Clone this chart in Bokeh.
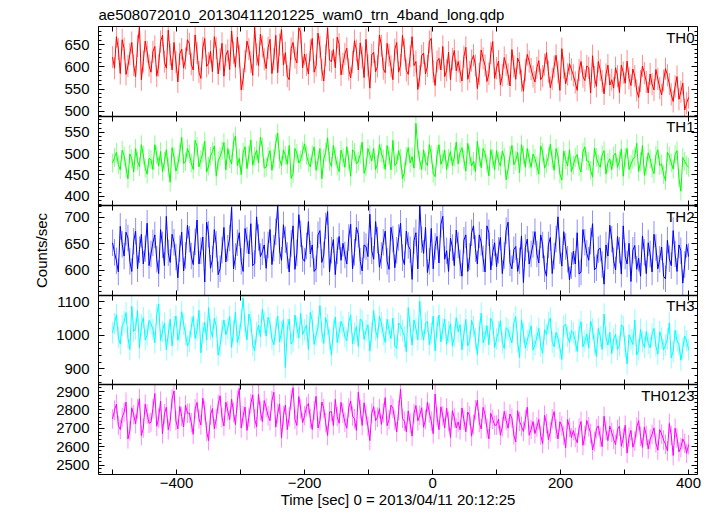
import numpy as np
from bokeh.plotting import figure
from bokeh.models import (ColumnDataSource, Range1d, SingleIntervalTicker, FixedTicker,
                          LinearAxis, Label, CustomLabelingPolicy)
from bokeh.embed import file_html
from bokeh.resources import INLINE

TITLE = "ae508072010_20130411201225_wam0_trn_4band_long.qdp"
X_LABEL = "Time [sec] 0 = 2013/04/11 20:12:25"
Y_LABEL = "Counts/sec"

band_names = ["TH0", "TH1", "TH2", "TH3", "TH0123"]
band_colors = ["#ff0000", "#00ff00", "#0000ff", "#00ffff", "#ff00ff"]

# first bin time and bin width (sec)
t_start = -500
t_step = 3

th0 = [622, 597, 668, 640, 585, 661, 641, 583, 602, 629, 655, 604, 578, 647, 690, 571, 612, 658, 634, 603,
       588, 634, 646, 579, 603, 657, 671, 612, 597, 683, 628, 593, 655, 611, 566, 629, 640, 597, 619, 661,
       652, 606, 593, 672, 631, 588, 574, 643, 664, 601, 608, 635, 589, 668, 642, 584, 617, 653, 579, 626,
       637, 594, 681, 632, 599, 667, 624, 548, 572, 613, 658, 640, 611, 581, 689, 628, 603, 674, 646, 617,
       596, 643, 662, 585, 618, 671, 587, 650, 684, 604, 632, 579, 571, 641, 655, 621, 609, 688, 677, 598,
       629, 605, 584, 637, 664, 588, 603, 676, 645, 593, 568, 626, 688, 615, 612, 639, 598, 667, 651, 582,
       607, 629, 642, 594, 575, 611, 659, 637, 593, 654, 621, 576, 662, 603, 552, 627, 633, 589, 601, 672,
       648, 596, 587, 653, 626, 601, 571, 639, 655, 588, 604, 671, 639, 592, 583, 624, 668, 603, 612, 549,
       579, 625, 631, 584, 602, 657, 664, 589, 558, 612, 619, 593, 646, 578, 592, 633, 571, 618, 637, 591,
       612, 589, 568, 623, 644, 572, 589, 614, 626, 603, 551, 584, 638, 619, 603, 567, 584, 631, 657, 574,
       597, 613, 559, 581, 621, 604, 583, 557, 639, 601, 572, 620, 608, 569, 545, 593, 628, 612, 595, 578,
       566, 598, 614, 571, 579, 605, 632, 589, 553, 573, 601, 626, 588, 547, 641, 598, 562, 583, 607, 594,
       581, 565, 547, 593, 612, 578, 569, 602, 598, 541, 625, 577, 556, 612, 593, 568, 539, 583, 604, 559,
       571, 552, 598, 579, 542, 604, 587, 563, 613, 574, 558, 595, 579, 547, 531, 568, 602, 586, 566, 541,
       584, 561, 548, 594, 573, 552, 537, 569, 596, 581, 561, 538, 522, 556, 578, 527, 544, 563, 503, 518,
       531]

th1 = [478, 491, 503, 474, 462, 508, 495, 467, 441, 499, 488, 457, 512, 483, 469, 521, 497, 466, 452, 489,
       486, 463, 521, 497, 471, 505, 458, 482, 509, 468, 433, 514, 492, 459, 474, 503, 538, 477, 481, 512,
       499, 478, 463, 531, 517, 469, 486, 502, 529, 457, 471, 494, 505, 518, 447, 483, 493, 507, 526, 462,
       512, 488, 476, 527, 541, 472, 489, 451, 503, 516, 465, 497, 532, 473, 494, 508, 478, 539, 515, 466,
       468, 493, 507, 461, 489, 524, 548, 487, 472, 509, 496, 475, 519, 442, 453, 512, 501, 478, 486, 505,
       523, 497, 479, 469, 498, 516, 461, 484, 512, 441, 488, 503, 537, 482, 470, 519, 494, 471, 458, 508,
       491, 468, 516, 485, 447, 509, 503, 476, 482, 498, 527, 454, 469, 512, 498, 483, 512, 463, 476, 521,
       502, 487, 463, 519, 495, 462, 531, 472, 478, 507, 489, 441, 456, 494, 514, 478, 493, 466, 571, 512,
       484, 463, 509, 481, 472, 521, 498, 454, 446, 497, 521, 475, 487, 508, 463, 489, 505, 472, 492, 527,
       476, 503, 514, 486, 459, 524, 496, 471, 482, 458, 529, 493, 467, 512, 501, 476, 448, 509, 488, 462,
       507, 482, 471, 506, 492, 439, 463, 495, 519, 474, 484, 503, 455, 521, 497, 468, 512, 487, 468, 499,
       489, 471, 452, 518, 503, 466, 477, 493, 522, 487, 461, 512, 494, 452, 438, 506, 486, 471, 509, 458,
       473, 491, 498, 469, 457, 504, 516, 483, 482, 461, 445, 513, 491, 476, 468, 497, 507, 452, 479, 488,
       462, 495, 501, 468, 483, 511, 447, 492, 512, 463, 475, 487, 493, 524, 458, 481, 519, 449, 471, 502,
       488, 466, 453, 496, 509, 472, 476, 451, 437, 503, 495, 478, 464, 498, 507, 442, 412, 491, 482, 473,
       468]

th2 = [652, 634, 618, 597, 683, 649, 627, 672, 661, 617, 598, 655, 674, 603, 639, 668, 612, 641, 689, 609,
       631, 652, 667, 621, 594, 677, 648, 609, 702, 633, 615, 668, 653, 625, 586, 641, 672, 599, 628, 685,
       659, 627, 611, 654, 695, 612, 637, 663, 578, 691, 668, 604, 621, 677, 649, 592, 603, 638, 681, 616,
       642, 661, 719, 603, 626, 652, 671, 617, 598, 679, 657, 631, 688, 609, 613, 701, 662, 626, 635, 648,
       604, 648, 677, 611, 642, 673, 721, 637, 619, 686, 658, 628, 597, 651, 684, 602, 633, 705, 669, 622,
       617, 646, 692, 631, 648, 598, 603, 667, 675, 615, 629, 684, 711, 597, 638, 658, 592, 637, 664, 619,
       651, 629, 612, 662, 687, 603, 634, 681, 668, 617, 599, 648, 645, 626, 706, 637, 621, 692, 657, 606,
       628, 653, 674, 617, 602, 681, 659, 605, 638, 662, 689, 624, 611, 674, 647, 639, 583, 656, 671, 603,
       722, 658, 632, 681, 596, 617, 679, 603, 645, 664, 614, 687, 702, 621, 637, 598, 661, 643, 609, 676,
       648, 614, 589, 657, 667, 598, 626, 671, 684, 641, 612, 667, 653, 622, 597, 684, 671, 601, 634, 652,
       607, 638, 662, 594, 628, 675, 691, 614, 603, 639, 645, 598, 618, 665, 577, 643, 659, 612, 631, 649,
       673, 631, 614, 667, 648, 603, 589, 648, 662, 594, 627, 659, 701, 637, 608, 673, 645, 621, 582, 609,
       636, 612, 671, 593, 597, 677, 653, 632, 619, 655, 688, 601, 605, 639, 642, 611, 574, 648, 627, 685,
       659, 618, 601, 664, 638, 593, 684, 627, 612, 651, 579, 638, 647, 602, 623, 589, 665, 634, 594, 652,
       631, 597, 668, 643, 603, 621, 644, 589, 584, 657, 622, 609, 675, 631, 598, 648, 637, 576, 611, 649,
       626]

th3 = [1008, 1036, 1062, 995, 974, 1029, 1041, 1068, 993, 958, 1087, 1012, 1019, 1074, 962, 1031, 1053, 987, 1001, 1045,
       1035, 1019, 978, 1063, 1094, 985, 1012, 1037, 957, 1004, 1048, 969, 1026, 1058, 986, 1012, 1071, 1033, 1004, 968,
       982, 1024, 1057, 991, 1016, 1075, 948, 1007, 1039, 986, 1083, 1018, 995, 1052, 1027, 941, 969, 1013, 1046, 1002,
       1021, 1057, 964, 1013, 1069, 979, 1003, 1046, 1112, 1028, 987, 1064, 1042, 971, 955, 1009, 1031, 996, 1078, 1039,
       998, 1054, 1036, 989, 972, 1019, 1058, 981, 1011, 1047, 904, 1018, 1049, 974, 983, 1061, 1024, 992, 1066, 1003,
       1017, 1031, 958, 1069, 1044, 973, 1001, 1025, 1089, 1011, 976, 1053, 1032, 988, 941, 1016, 1055, 979, 1008, 1042,
       1027, 996, 984, 1038, 1061, 975, 1006, 1027, 967, 1049, 1043, 988, 1014, 1032, 953, 1008, 1074, 1016, 992, 1057,
       1038, 1003, 979, 1048, 1016, 991, 1052, 969, 961, 1037, 1029, 1015, 997, 951, 1083, 1024, 971, 1046, 1021, 987,
       1103, 1017, 986, 1036, 1042, 972, 1007, 1058, 954, 1024, 1061, 981, 1019, 1049, 973, 1011, 1035, 968, 996, 1053,
       1011, 1032, 957, 1004, 1048, 969, 982, 1045, 1026, 990, 943, 1013, 1067, 978, 999, 1029, 972, 1051, 1038, 964,
       989, 1012, 1044, 978, 961, 1023, 1017, 995, 978, 1036, 1056, 981, 934, 1047, 1008, 962, 985, 1007, 1029, 956,
       972, 995, 1021, 968, 947, 1017, 1003, 1038, 1052, 979, 966, 1009, 991, 962, 928, 1028, 1034, 997, 979, 1014,
       1008, 983, 952, 1017, 1041, 966, 983, 1004, 962, 1043, 1019, 974, 937, 1021, 997, 958, 1064, 993, 971, 1009,
       946, 989, 1003, 958, 969, 1031, 1027, 966, 915, 1002, 988, 973, 1046, 941, 957, 1018, 981, 964, 1012, 976,
       963, 1004, 1021, 968, 944, 1011, 992, 957, 971, 990, 1037, 933, 952, 1015, 984, 972, 926, 961, 998, 984,
       957]

th0123 = [2751, 2798, 2832, 2716, 2694, 2759, 2788, 2842, 2643, 2687, 2812, 2774, 2725, 2806, 2861, 2661, 2702, 2831, 2779, 2728,
          2734, 2807, 2889, 2712, 2756, 2848, 2671, 2779, 2815, 2693, 2738, 2861, 2903, 2742, 2697, 2819, 2764, 2708, 2826, 2782,
          2783, 2731, 2668, 2806, 2841, 2752, 2719, 2864, 2797, 2684, 2634, 2773, 2808, 2698, 2752, 2831, 2877, 2759, 2713, 2842,
          2796, 2748, 2858, 2787, 2721, 2853, 2917, 2702, 2768, 2816, 2689, 2761, 2834, 2882, 2752, 2709, 2884, 2795, 2737, 2851,
          2812, 2768, 2742, 2851, 2896, 2707, 2781, 2833, 2649, 2768, 2827, 2694, 2763, 2856, 2921, 2749, 2716, 2873, 2805, 2731,
          2769, 2817, 2835, 2753, 2694, 2796, 2874, 2702, 2741, 2843, 2808, 2731, 2662, 2789, 2791, 2716, 2857, 2764, 2728, 2841,
          2783, 2734, 2701, 2812, 2849, 2767, 2752, 2689, 2896, 2803, 2716, 2839, 2773, 2711, 2634, 2782, 2818, 2742, 2761, 2807,
          2722, 2784, 2867, 2715, 2748, 2826, 2809, 2744, 2681, 2798, 2913, 2754, 2739, 2682, 2795, 2729, 2658, 2781, 2824, 2741,
          2771, 2812, 2706, 2749, 2842, 2784, 2739, 2671, 2886, 2762, 2693, 2817, 2768, 2703, 2810, 2738, 2651, 2796, 2757, 2702,
          2735, 2693, 2811, 2746, 2682, 2789, 2768, 2658, 2721, 2801, 2852, 2732, 2697, 2814, 2776, 2701, 2643, 2782, 2749, 2717,
          2718, 2751, 2663, 2709, 2792, 2743, 2701, 2778, 2756, 2664, 2627, 2796, 2738, 2711, 2684, 2749, 2815, 2663, 2695, 2737,
          2672, 2708, 2749, 2663, 2618, 2771, 2726, 2639, 2681, 2752, 2791, 2697, 2643, 2736, 2713, 2662, 2595, 2748, 2704, 2651,
          2688, 2651, 2622, 2702, 2737, 2608, 2661, 2743, 2709, 2672, 2583, 2628, 2697, 2714, 2652, 2601, 2766, 2689, 2634, 2712,
          2679, 2641, 2613, 2694, 2712, 2603, 2648, 2717, 2566, 2652, 2689, 2598, 2631, 2706, 2742, 2657, 2597, 2708, 2662, 2589,
          2641, 2668, 2703, 2621, 2582, 2694, 2669, 2637, 2614, 2578, 2727, 2662, 2553, 2701, 2648, 2573, 2596, 2643, 2619, 2565,
          2612]

band_values = [th0, th1, th2, th3, th0123]
band_errors = [25, 22, 25, 32, 53]          # 1-sigma error bar half-length
y_limits = [(489, 691), (378, 588), (553, 722), (852, 1120), (2450, 2936)]
y_major = [50, 50, 50, 100, 100]
x_limits = (-522, 414)
x_tick_labels = {-400: "\u2212400", -200: "\u2212200", 0: "0", 200: "200", 400: "400",
                 -500: "", -300: "", -100: "", 100: "", 300: ""}

FONT = "Liberation Sans"
FS = "15px"
NB = len(band_names)

def no_labels():
    return CustomLabelingPolicy(code="return []")

# each band gets its own y scale; its range is widened so that [lo, hi]
# fills exactly its own fifth of the frame
extra = {}
for k in range(NB):
    lo, hi = y_limits[k]
    span = hi - lo
    extra[band_names[k]] = Range1d(lo - (NB - 1 - k) * span, hi + k * span)

p = figure(frame_width=599, frame_height=448,
           x_range=Range1d(*x_limits), y_range=Range1d(0, NB),
           x_axis_location=None, y_axis_location=None,
           output_backend="svg", toolbar_location=None,
           min_border_left=98, min_border_right=10, min_border_top=0, min_border_bottom=0,
           background_fill_color="white", border_fill_color="white")
p.extra_y_ranges = extra
p.grid.visible = False
p.outline_line_color = "black"
p.outline_line_width = 1
p.outline_line_alpha = 1

p.title.text = TITLE
p.title.text_font = FONT
p.title.text_font_size = FS
p.title.text_font_style = "normal"
p.title.text_color = "black"
p.title.align = "left"
p.title.standoff = 7

# tick positions of every band, expressed on the shared frame axis (0..NB)
tick_pos, minor_pos, tick_text = [], [], {}

for k in range(NB):
    name = band_names[k]
    lo, hi = y_limits[k]
    vals = np.array(band_values[k], dtype=float)
    t = t_start + t_step * np.arange(len(vals))
    err = band_errors[k]
    src = ColumnDataSource(dict(t=t, y=vals,
                                lo=np.clip(vals - err, lo, hi),
                                hi=np.clip(vals + err, lo, hi)))
    color = band_colors[k]
    p.segment(x0="t", y0="lo", x1="t", y1="hi", source=src, line_color=color,
              line_alpha=0.45, line_width=1, y_range_name=name)
    p.line(x="t", y="y", source=src, line_color=color, line_width=1, y_range_name=name)

    r = extra[name]
    to_frame = lambda v: float(NB * (v - r.start) / (r.end - r.start))
    step = y_major[k]
    mstep = step / 5
    for v in np.arange(np.ceil(lo / step) * step, hi + 0.1, step):
        pos = to_frame(v)
        tick_pos.append(pos)
        tick_text[pos] = "%d" % v
    for v in np.arange(np.ceil(lo / mstep) * mstep, hi + 0.1, mstep):
        minor_pos.append(to_frame(v))

    p.add_layout(Label(x=x_limits[1], y=hi, y_range_name=name, x_offset=-3, y_offset=-2,
                       text=name, text_align="right", text_baseline="top",
                       text_font=FONT, text_font_size=FS, text_color="black"))

# left axis: ticks + labels of all bands, plus the y title
left = LinearAxis(ticker=FixedTicker(ticks=tick_pos, minor_ticks=minor_pos))
left.major_label_overrides = tick_text
left.axis_line_color = None
left.major_tick_in = 6
left.major_tick_out = 0
left.minor_tick_in = 3
left.minor_tick_out = 0
left.major_tick_line_color = "black"
left.minor_tick_line_color = "black"
left.major_label_text_font = FONT
left.major_label_text_font_size = FS
left.major_label_text_color = "black"
left.major_label_standoff = 9
left.axis_label = Y_LABEL
left.axis_label_text_font = FONT
left.axis_label_text_font_size = FS
left.axis_label_text_font_style = "normal"
left.axis_label_text_color = "black"
left.axis_label_standoff = 3
p.add_layout(left, "left")

# right axis: ticks only
right = LinearAxis(ticker=FixedTicker(ticks=tick_pos, minor_ticks=minor_pos),
                   fixed_location=x_limits[1])
right.axis_line_color = None
right.major_tick_in = 6
right.major_tick_out = 0
right.minor_tick_in = 3
right.minor_tick_out = 0
right.major_tick_line_color = "black"
right.minor_tick_line_color = "black"
right.major_label_policy = no_labels()
p.add_layout(right, "right")

# x ticks at the top, at every band boundary, and at the bottom
for b in range(NB + 1):
    side = "above" if b == NB else "below"
    kw = {} if b == 0 else {"fixed_location": b}
    ax = LinearAxis(ticker=SingleIntervalTicker(interval=100, num_minor_ticks=0), **kw)
    ax.major_tick_in = 5
    ax.major_tick_out = 5 if 0 < b < NB else 0
    ax.minor_tick_in = 0
    ax.minor_tick_out = 0
    ax.major_tick_line_color = "black"
    ax.axis_line_color = "black" if 0 < b < NB else None
    ax.axis_line_width = 1.5
    if b == 0:
        ax.major_label_overrides = x_tick_labels
        ax.major_label_text_font = FONT
        ax.major_label_text_font_size = FS
        ax.major_label_text_color = "black"
        ax.major_label_standoff = 3
        ax.axis_label = X_LABEL
        ax.axis_label_text_font = FONT
        ax.axis_label_text_font_size = FS
        ax.axis_label_text_font_style = "normal"
        ax.axis_label_text_color = "black"
        ax.axis_label_standoff = 0
    else:
        ax.major_label_policy = no_labels()
    p.add_layout(ax, side)

open("out.html", "w").write(file_html(p, INLINE))
